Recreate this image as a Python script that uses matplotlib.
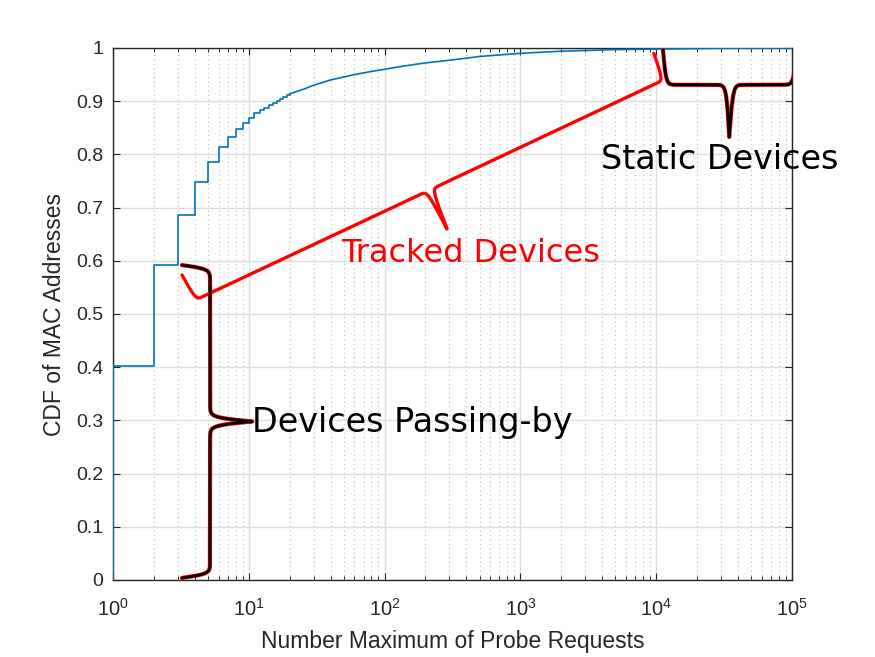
import numpy as np
import matplotlib
matplotlib.use("Agg")
import matplotlib.pyplot as plt
from matplotlib.ticker import LogLocator, FixedLocator, FixedFormatter, NullFormatter

# ---------------- data ----------------
# stepped part of the empirical CDF (integer probe counts)
step_x = [1, 2, 3, 4, 5, 6, 7, 8, 9, 10, 11, 12, 13, 14, 15, 16, 17, 18, 19, 20]
step_y = [0.403, 0.593, 0.686, 0.749, 0.786, 0.813, 0.832, 0.847, 0.859, 0.869,
          0.877, 0.883, 0.888, 0.893, 0.897, 0.901, 0.905, 0.908, 0.911, 0.914]
# smooth tail of the CDF
tail_x = [20, 25, 30, 40, 60, 80, 100, 130, 200, 300, 500, 700, 1000, 2000,
          5000, 10000, 30000, 100000]
tail_y = [0.914, 0.922, 0.930, 0.940, 0.950, 0.956, 0.960, 0.965, 0.972, 0.977,
          0.984, 0.987, 0.990, 0.994, 0.997, 0.998, 0.9995, 1.0]

y_ticks = [0, 0.1, 0.2, 0.3, 0.4, 0.5, 0.6, 0.7, 0.8, 0.9, 1]
y_tick_labels = ["0", "0.1", "0.2", "0.3", "0.4", "0.5", "0.6", "0.7", "0.8", "0.9", "1"]
x_label = "Number Maximum of Probe Requests"
y_label = "CDF of MAC Addresses"

# annotation braces (data coordinates): start, end, tip
brace_passing = {"start": (3.22, 0.592), "end": (3.22, 0.004), "tip": (10.6, 0.298)}
brace_tracked = {"start": (3.22, 0.5733), "end": (9600, 0.990), "tip": (288, 0.660)}
brace_static = {"start": (11220, 0.9962), "end": (108900, 0.9962), "tip": (34500, 0.8327)}

# annotation texts (data coordinates, left/baseline)
text_passing = ("Devices Passing-by", 10.56, 0.2776)
text_tracked = ("Tracked Devices", 48.2, 0.598)
text_static = ("Static Devices", 3925, 0.7725)

# ---------------- figure ----------------
W, H = 875, 657
fig = plt.figure(figsize=(W / 100, H / 100), dpi=100)
ax = fig.add_axes([113 / W, 1 - 580 / H, 679 / W, 532 / H])

plt.rcParams["mathtext.default"] = "regular"
tick_font = "Liberation Sans"
dark = "#262626"

ax.set_xscale("log")
ax.set_xlim(1, 1e5)
ax.set_ylim(0, 1)

# grid
ax.set_axisbelow(True)
ax.xaxis.set_major_locator(LogLocator(base=10, numticks=10))
ax.xaxis.set_minor_locator(LogLocator(base=10, subs=np.arange(2, 10), numticks=20))
ax.xaxis.set_minor_formatter(NullFormatter())
ax.yaxis.set_major_locator(FixedLocator(y_ticks))
ax.yaxis.set_major_formatter(FixedFormatter(y_tick_labels))
ax.grid(True, which="major", color="#dedede", linewidth=1.0, linestyle="-")
ax.xaxis.grid(True, which="minor", color="#b8b8b8", linewidth=0.8, linestyle=(0, (1, 3)))

ax.tick_params(which="both", direction="in", top=True, right=True, colors=dark,
               labelcolor=dark)
ax.tick_params(which="major", length=5, width=0.8)
ax.tick_params(which="minor", length=3, width=0.7)
ax.tick_params(axis="x", which="major", pad=13, labelsize=14.5)
ax.tick_params(axis="y", which="major", pad=7, labelsize=14)
for lab in ax.get_xticklabels() + ax.get_yticklabels():
    lab.set_family(tick_font)
for s in ax.spines.values():
    s.set_color(dark)
    s.set_linewidth(1.0)

ax.set_xlabel(x_label, fontsize=16.5, family=tick_font, color=dark, labelpad=7)
ax.set_ylabel(y_label, fontsize=16.5, family=tick_font, color=dark, labelpad=7)

# CDF line
blue = "#0072BD"
ax.step([1] + step_x, [0] + step_y, where="post", color=blue, linewidth=1.2, zorder=3)
ax.plot(tail_x, tail_y, color=blue, linewidth=1.2, zorder=3)


# ---------------- braces ----------------
def brace_points(b, arm_frac=0.4, k=0.3):
    T = ax.transData
    a = T.transform(b["start"])
    e = T.transform(b["end"])
    tip = T.transform(b["tip"])
    mid = (a + e) / 2
    u = e - a
    L = np.hypot(*u)
    u = u / L
    n = tip - mid
    D = np.hypot(*n)
    n = n / D
    arm = arm_frac * D
    s = np.linspace(0, L, 4001)
    sp = np.minimum(s, L - s)
    v = arm * (2 / (1 + np.exp(-k * sp)) - 1) + (D - arm) * 2 / (1 + np.exp(-k * (sp - L / 2)))
    pts = a[None, :] + s[:, None] * u[None, :] + v[:, None] * n[None, :]
    return T.inverted().transform(pts)


p = brace_points(brace_passing, k=0.5)
ax.plot(p[:, 0], p[:, 1], color="red", linewidth=3.0, clip_on=False, zorder=5,
        solid_capstyle="round")
ax.plot(p[:, 0], p[:, 1], color="black", linewidth=2.0, clip_on=False, zorder=6,
        solid_capstyle="round")

p = brace_points(brace_tracked, k=0.8)
ax.plot(p[:, 0], p[:, 1], color="red", linewidth=2.4, clip_on=False, zorder=5,
        solid_capstyle="round")

p = brace_points(brace_static, k=0.6)
ax.plot(p[:, 0], p[:, 1], color="red", linewidth=3.0, clip_on=True, zorder=5,
        solid_capstyle="round")
ax.plot(p[:, 0], p[:, 1], color="black", linewidth=2.0, clip_on=True, zorder=6,
        solid_capstyle="round")

# ---------------- texts ----------------
ax.text(text_passing[1], text_passing[2], text_passing[0], color="black",
        fontsize=24, family="DejaVu Sans", ha="left", va="baseline", zorder=7)
ax.text(text_tracked[1], text_tracked[2], text_tracked[0], color="red",
        fontsize=23, family="DejaVu Sans", ha="left", va="baseline", zorder=7)
ax.text(text_static[1], text_static[2], text_static[0], color="black",
        fontsize=24, family="DejaVu Sans", ha="left", va="baseline", zorder=7,
        clip_on=False)

fig.savefig("out.png", dpi=100)
